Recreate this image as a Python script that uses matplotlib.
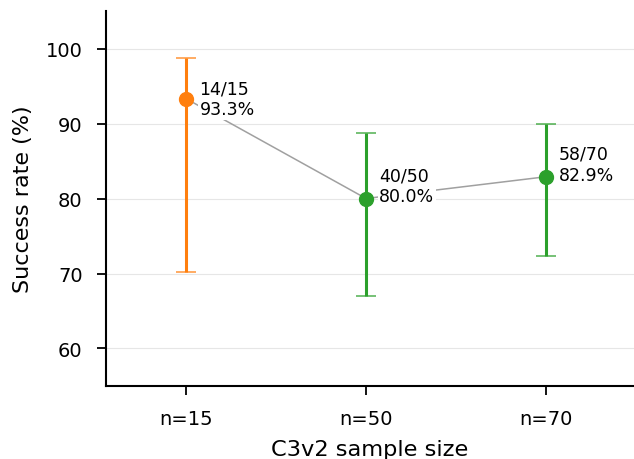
import matplotlib
matplotlib.use("Agg")
import matplotlib.pyplot as plt

# ----- data ----------------------------------------------------------------
labels = ["n=15", "n=50", "n=70"]
successes = [14, 40, 58]
totals = [15, 50, 70]
rates = [93.3, 80.0, 82.9]
ci_low = [70.2, 67.0, 72.4]
ci_high = [98.8, 88.8, 89.9]
colors = ["#ff7f0e", "#2ca02c", "#2ca02c"]
label_dy = [0, 9, 9]   # vertical nudge of the annotations, in points

fig = plt.figure(figsize=(6.34, 4.6), dpi=100)
ax = fig.add_axes([0.1675, 0.1587, 0.8325, 0.8152])

x = list(range(len(labels)))
ax.plot(x, rates, color="#a0a0a0", lw=1.1, zorder=1)

for i in x:
    err = [[rates[i] - ci_low[i]], [ci_high[i] - rates[i]]]
    _, caps, _ = ax.errorbar(i, rates[i], yerr=err, fmt="o", color=colors[i],
                             ms=10, elinewidth=2.2, capsize=7.2, capthick=1.3,
                             zorder=3)
    for c in caps:
        c.set_alpha(0.7)
    ax.annotate(f"{successes[i]}/{totals[i]}\n{rates[i]:.1f}%",
                (i, rates[i]), xytext=(9.5, label_dy[i]),
                textcoords="offset points",
                va="center", ha="left", fontsize=12.5, zorder=4,
                bbox=dict(boxstyle="square,pad=0.1", fc="white", ec="none"))

ax.set_xticks(x)
ax.set_xticklabels(labels)
ax.set_xlim(-0.445, 2.49)
ax.set_ylim(55, 105)
ax.set_yticks([60, 70, 80, 90, 100])
ax.tick_params(axis="both", labelsize=14, length=6.5, width=1.3)
ax.tick_params(axis="x", pad=10)
ax.tick_params(axis="y", pad=10.5)
ax.set_xlabel("C3v2 sample size", fontsize=16.2, labelpad=8)
ax.set_ylabel("Success rate (%)", fontsize=16, labelpad=9)
ax.yaxis.grid(True, color="#e6e6e6", lw=0.8)
ax.set_axisbelow(True)
for side in ("top", "right"):
    ax.spines[side].set_visible(False)
ax.spines["left"].set_linewidth(1.5)
ax.spines["bottom"].set_linewidth(1.5)

fig.savefig("out.png", dpi=100)
